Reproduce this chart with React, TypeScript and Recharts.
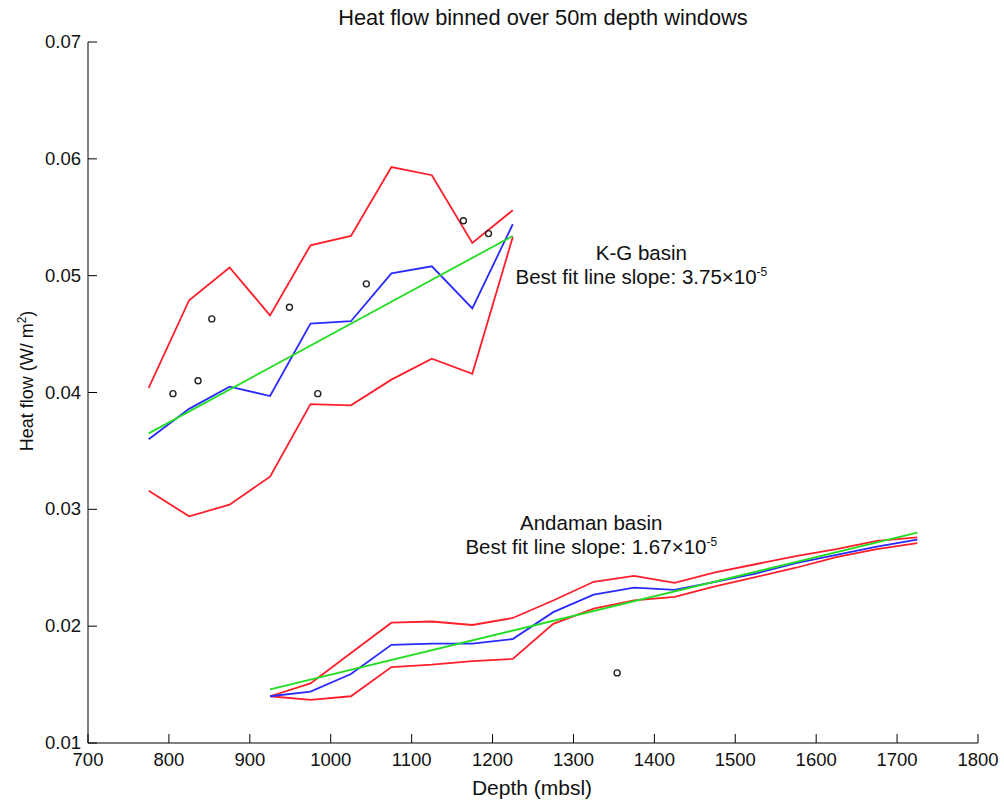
import React from 'react';
import {
  ComposedChart,
  Line,
  Scatter,
  XAxis,
  YAxis,
  ReferenceDot,
} from 'recharts';

const FONT = '"Liberation Sans", Helvetica, Arial, sans-serif';

const DEPTH_TICKS = [700, 800, 900, 1000, 1100, 1200, 1300, 1400, 1500, 1600, 1700, 1800];
const FLOW_TICKS = [0.01, 0.02, 0.03, 0.04, 0.05, 0.06, 0.07];

// K-G basin (bin centres, 50 m windows)
const kgDepth = [775, 825, 875, 925, 975, 1025, 1075, 1125, 1175, 1225];
const kgUpper = [0.0404, 0.0479, 0.0507, 0.0466, 0.0526, 0.0534, 0.0593, 0.0586, 0.0528, 0.0556];
const kgMean = [0.036, 0.0386, 0.0405, 0.0397, 0.0459, 0.0461, 0.0502, 0.0508, 0.0472, 0.0544];
const kgLower = [0.0316, 0.0294, 0.0304, 0.0328, 0.039, 0.0389, 0.0411, 0.0429, 0.0416, 0.0533];
const kgFitDepth = [775, 1225];
const kgFit = [0.0365, 0.0534];
const kgPointDepth = [805, 836, 853, 949, 984, 1044, 1164, 1195];
const kgPointFlow = [0.0399, 0.041, 0.0463, 0.0473, 0.0399, 0.0493, 0.0547, 0.0536];

// Andaman basin
const anDepth = [925, 975, 1025, 1075, 1125, 1175, 1225, 1275, 1325, 1375, 1425, 1475, 1525, 1575, 1625, 1675, 1725];
const anUpper = [0.014, 0.0151, 0.0177, 0.0203, 0.0204, 0.0201, 0.0207, 0.0222, 0.0238, 0.0243, 0.0237, 0.0246, 0.0253, 0.026, 0.0266, 0.0273, 0.0276];
const anMean = [0.014, 0.0144, 0.0159, 0.0184, 0.0185, 0.0185, 0.0189, 0.0212, 0.0227, 0.0233, 0.0231, 0.0238, 0.0245, 0.0254, 0.0261, 0.0268, 0.0274];
const anLower = [0.014, 0.0137, 0.014, 0.0165, 0.0167, 0.017, 0.0172, 0.0202, 0.0215, 0.0222, 0.0225, 0.0234, 0.0242, 0.025, 0.0259, 0.0266, 0.0271];
const anFitDepth = [925, 1725];
const anFit = [0.0146, 0.028];
const anPointDepth = [1354];
const anPointFlow = [0.016];

const RED = '#ff1f2a';
const BLUE = '#2a2aff';
const GREEN = '#22dd22';
const LW = 1.8;

const zip = (xs: number[], ys: number[]) => xs.map((d, i) => ({ depth: d, flow: ys[i] }));

const XTick = (props: any) => {
  const { x, y, payload } = props;
  return (
    <g>
      <line x1={x} y1={y} x2={x} y2={y - 9} stroke="#000" strokeWidth={1} />
      <text x={x} y={y + 23} textAnchor="middle" fontFamily={FONT} fontSize={18.5} fill="#111">
        {payload.value}
      </text>
    </g>
  );
};

const YTick = (props: any) => {
  const { x, y, payload } = props;
  return (
    <g>
      <line x1={x} y1={y} x2={x + 9} y2={y} stroke="#000" strokeWidth={1} />
      <text x={x - 7} y={y + 6} textAnchor="end" fontFamily={FONT} fontSize={18.5} fill="#111">
        {payload.value.toFixed(2)}
      </text>
    </g>
  );
};

const ring = (props: any) => (
  <circle cx={props.cx} cy={props.cy} r={3} fill="none" stroke="#222" strokeWidth={1.4} />
);

const annotation = (name: string, slope: string) => (props: any) => {
  const { viewBox } = props;
  const cx = viewBox.x + viewBox.width / 2;
  const cy = viewBox.y + viewBox.height / 2;
  return (
    <g fontFamily={FONT} fontSize={20.5} fill="#111">
      <text x={cx} y={cy - 5} textAnchor="middle">{name}</text>
      <text x={cx} y={cy + 19} textAnchor="middle">
        Best fit line slope: {slope}×10
        <tspan dy={-8} fontSize={12}>-5</tspan>
      </text>
    </g>
  );
};

export default function App() {
  return (
    <div style={{ position: 'absolute', left: 0, top: 0, width: 1004, height: 801, background: '#fff' }}>
      <ComposedChart
        width={1004}
        height={801}
        margin={{ top: 42, right: 26, bottom: 28, left: 28 }}
      >
        <XAxis
          type="number"
          dataKey="depth"
          domain={[700, 1800]}
          ticks={DEPTH_TICKS}
          height={30}
          tickSize={0}
          tickMargin={0}
          tickLine={false}
          tick={<XTick />}
          axisLine={{ stroke: '#000', strokeWidth: 1 }}
          allowDataOverflow
        />
        <YAxis
          type="number"
          dataKey="flow"
          domain={[0.01, 0.07]}
          ticks={FLOW_TICKS}
          width={60}
          tickSize={0}
          tickMargin={0}
          tickLine={false}
          tick={<YTick />}
          axisLine={{ stroke: '#000', strokeWidth: 1 }}
          allowDataOverflow
        />

        <Line data={zip(kgDepth, kgUpper)} dataKey="flow" stroke={RED} strokeWidth={LW} dot={false} isAnimationActive={false} />
        <Line data={zip(kgDepth, kgLower)} dataKey="flow" stroke={RED} strokeWidth={LW} dot={false} isAnimationActive={false} />
        <Line data={zip(kgDepth, kgMean)} dataKey="flow" stroke={BLUE} strokeWidth={LW} dot={false} isAnimationActive={false} />
        <Line data={zip(kgFitDepth, kgFit)} dataKey="flow" stroke={GREEN} strokeWidth={LW} dot={false} isAnimationActive={false} />

        <Line data={zip(anDepth, anUpper)} dataKey="flow" stroke={RED} strokeWidth={LW} dot={false} isAnimationActive={false} />
        <Line data={zip(anDepth, anLower)} dataKey="flow" stroke={RED} strokeWidth={LW} dot={false} isAnimationActive={false} />
        <Line data={zip(anDepth, anMean)} dataKey="flow" stroke={BLUE} strokeWidth={LW} dot={false} isAnimationActive={false} />
        <Line data={zip(anFitDepth, anFit)} dataKey="flow" stroke={GREEN} strokeWidth={LW} dot={false} isAnimationActive={false} />

        <Scatter data={zip(kgPointDepth, kgPointFlow)} dataKey="flow" shape={ring} isAnimationActive={false} />
        <Scatter data={zip(anPointDepth, anPointFlow)} dataKey="flow" shape={ring} isAnimationActive={false} />

        <ReferenceDot x={1384} y={0.0509} r={1} fill="none" stroke="none" ifOverflow="visible" label={annotation('K-G basin', '3.75')} />
        <ReferenceDot x={1322} y={0.0278} r={1} fill="none" stroke="none" ifOverflow="visible" label={annotation('Andaman basin', '1.67')} />
      </ComposedChart>

      <svg width={1004} height={801} style={{ position: 'absolute', left: 0, top: 0, pointerEvents: 'none' }}>
        <text x={543} y={25} textAnchor="middle" fontFamily={FONT} fontSize={21.8} fill="#111">
          Heat flow binned over 50m depth windows
        </text>
        <text x={532} y={795} textAnchor="middle" fontFamily={FONT} fontSize={21} fill="#111">
          Depth (mbsl)
        </text>
        <text transform="translate(33,381) rotate(-90)" textAnchor="middle" fontFamily={FONT} fontSize={18} fill="#111">
          Heat flow (W/ m<tspan dy={-7} fontSize={12}>2</tspan><tspan dy={7}>)</tspan>
        </text>
      </svg>
    </div>
  );
}
